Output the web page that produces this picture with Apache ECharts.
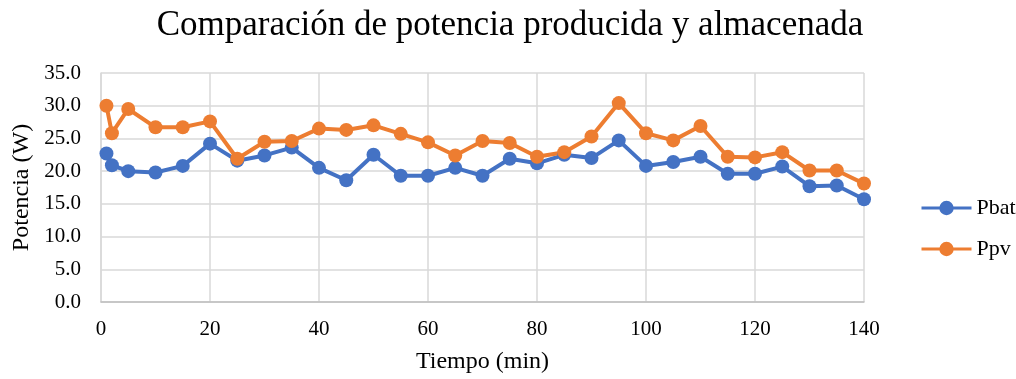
<!DOCTYPE html>
<html>
<head>
<meta charset="utf-8">
<script src="https://cdn.jsdelivr.net/npm/echarts@6/dist/echarts.min.js"></script>
<style>
  html, body { margin: 0; padding: 0; background: #fff; }
  #chart { width: 1016px; height: 379px; }
</style>
</head>
<body>
<div id="chart"></div>
<script>
// time in minutes
var tiempo = [1, 2, 5, 10, 15, 20, 25, 30, 35, 40, 45, 50, 55, 60, 65, 70, 75, 80, 85, 90, 95, 100, 105, 110, 115, 120, 125, 130, 135, 140];
var pbat = [22.7, 20.9, 20.0, 19.8, 20.8, 24.2, 21.6, 22.4, 23.6, 20.5, 18.6, 22.5, 19.3, 19.3, 20.5, 19.3, 21.9, 21.2, 22.5, 22.0, 24.7, 20.8, 21.4, 22.2, 19.6, 19.6, 20.7, 17.7, 17.8, 15.7];
var ppv = [30.0, 25.8, 29.5, 26.7, 26.7, 27.6, 21.9, 24.5, 24.6, 26.5, 26.3, 27.0, 25.7, 24.4, 22.4, 24.6, 24.3, 22.2, 22.9, 25.3, 30.4, 25.8, 24.7, 26.9, 22.2, 22.1, 22.9, 20.1, 20.1, 18.1];

function pairs(xs, ys){
  var out = [];
  for (var i = 0; i < xs.length; i++) out.push([xs[i], ys[i]]);
  return out;
}

var font = '"Liberation Serif", "Times New Roman", serif';
var myChart = echarts.init(document.getElementById('chart'));
var option = {
  animation: false,
  color: ['#4472C4', '#ED7D31'],
  title: {
    text: 'Comparación de potencia producida y almacenada',
    left: 505, top: 3, textAlign: 'center',
    textStyle: { fontFamily: font, fontSize: 35, fontWeight: 'normal', color: '#000' }
  },
  legend: {
    orient: 'vertical',
    left: 915, top: 192,
    itemWidth: 50, itemHeight: 18, itemGap: 19,
    lineStyle: { width: 3 },
    textStyle: { fontFamily: font, fontSize: 22, color: '#000' },
    data: ['Pbat', 'Ppv']
  },
  grid: { left: 101, right: 152, top: 73, bottom: 76 },
  xAxis: {
    type: 'value', min: 0, max: 140, interval: 20,
    name: 'Tiempo (min)', nameLocation: 'middle', nameGap: 48,
    nameTextStyle: { fontFamily: font, fontSize: 24, color: '#000' },
    axisLine: { lineStyle: { color: '#bfbfbf', width: 1.5 } },
    axisTick: { show: false },
    axisLabel: { fontFamily: font, fontSize: 21, color: '#000', margin: 17 },
    splitLine: { show: true, lineStyle: { color: '#d9d9d9', width: 1.5 } }
  },
  yAxis: {
    type: 'value', min: 0, max: 35, interval: 5,
    name: 'Potencia (W)', nameLocation: 'middle', nameGap: 67, nameRotate: 90,
    nameTextStyle: { fontFamily: font, fontSize: 24, color: '#000' },
    axisLine: { show: true, lineStyle: { color: '#d9d9d9', width: 1.5 } },
    axisTick: { show: false },
    axisLabel: { fontFamily: font, fontSize: 21, color: '#000', margin: 20,
      formatter: function(v){ return v.toFixed(1); } },
    splitLine: { show: true, lineStyle: { color: '#d9d9d9', width: 1.5 } }
  },
  series: [
    { name: 'Pbat', type: 'line', data: pairs(tiempo, pbat),
      symbol: 'circle', symbolSize: 14, lineStyle: { width: 4 } },
    { name: 'Ppv', type: 'line', data: pairs(tiempo, ppv),
      symbol: 'circle', symbolSize: 14, lineStyle: { width: 4 } }
  ]
};
myChart.setOption(option);
</script>
</body>
</html>
